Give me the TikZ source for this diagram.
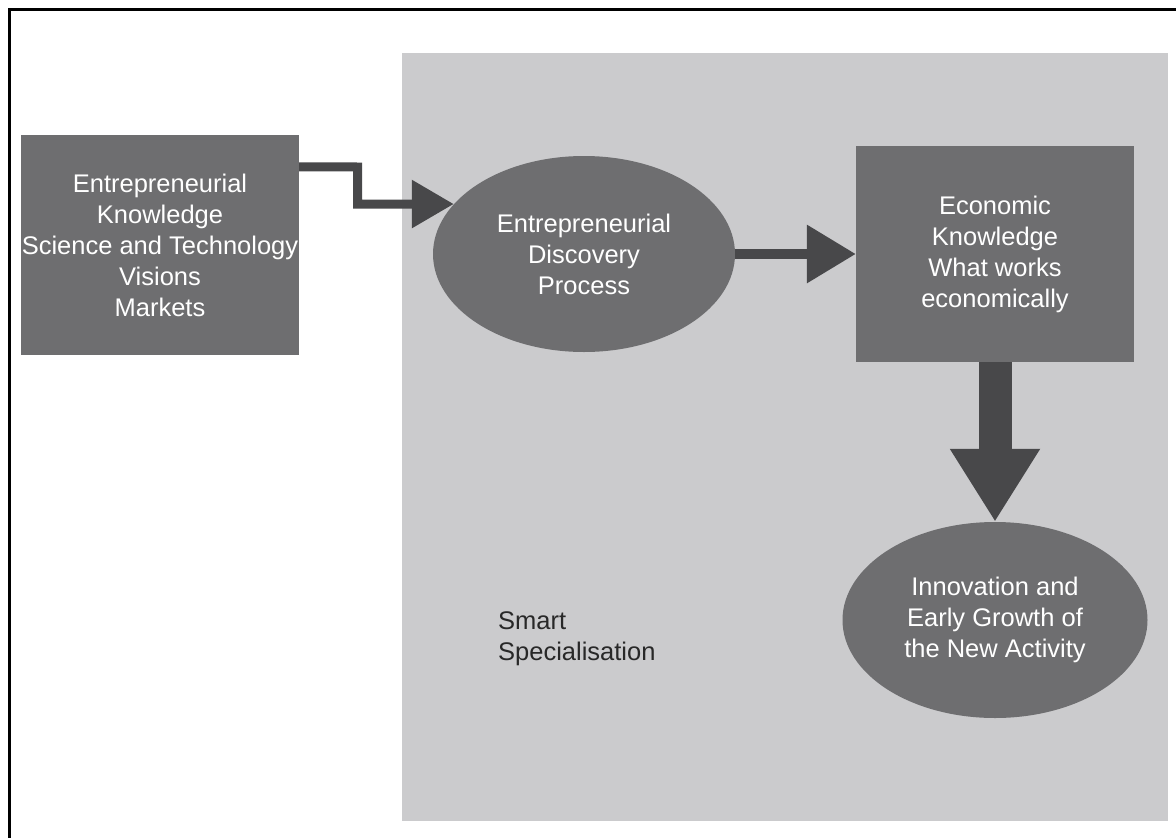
\documentclass[tikz,border=0pt]{standalone}
\usepackage{fontspec}
\setmainfont{Liberation Sans}
\usetikzlibrary{arrows.meta,shapes.geometric,calc}
\definecolor{panel}{RGB}{203,203,205}
\definecolor{blockfill}{RGB}{110,110,112}
\definecolor{arrowgray}{RGB}{72,72,74}
\definecolor{labelgray}{RGB}{40,40,40}

\begin{document}
\begin{tikzpicture}[x=1pt,y=-1pt,
  every node/.style={font=\fontsize{25.5}{31}\selectfont, align=center, inner sep=0pt},
  block/.style={rectangle, fill=blockfill, text=white},
  oval/.style={ellipse, fill=blockfill, text=white},
  flow/.style={draw=arrowgray, line join=miter, line cap=butt},
]
\useasboundingbox (0,0) rectangle (1176,838);
\fill[white] (0,0) rectangle (1176,838);

% frame lines along the top and left edges
\draw[line width=2.7pt] (9.5,838) -- (9.5,9.5) -- (1176,9.5);

% smart specialisation region
\node[fill=panel, minimum width=766pt, minimum height=768pt] (smart) at (785,437) {};
\node[text=labelgray, align=left, anchor=north west] (smartlabel) at (498,611) {Smart\\Specialisation};

% blocks
\node[block, minimum width=278pt, minimum height=220pt] (know) at (160,245)
  {Entrepreneurial\\Knowledge\\Science and Technology\\Visions\\Markets};
\node[oval, minimum width=302pt, minimum height=196pt] (edp) at (584,254)
  {Entrepreneurial\\Discovery\\Process};
\node[block, minimum width=278pt, minimum height=216pt] (econ) at (995,254)
  {Economic\\Knowledge\\What works\\economically};
\node[oval, minimum width=305pt, minimum height=196pt] (innov) at (995,620)
  {Innovation and\\Early Growth of\\the New Activity};

% connectors
\coordinate (kout) at ($(know.north east)+(0,32)$);
\draw[flow, line width=9pt, -{Triangle[length=42pt,width=46pt]}]
  (kout) -- (357.5,167) |- (edp.159.7);
\draw[flow, line width=10pt, -{Triangle[length=49pt,width=56pt]}]
  (edp.east) -- (econ.west);
\draw[flow, line width=33pt, -{Triangle[length=73pt,width=85pt]}]
  (econ.south) -- (innov.north);
\end{tikzpicture}
\end{document}
